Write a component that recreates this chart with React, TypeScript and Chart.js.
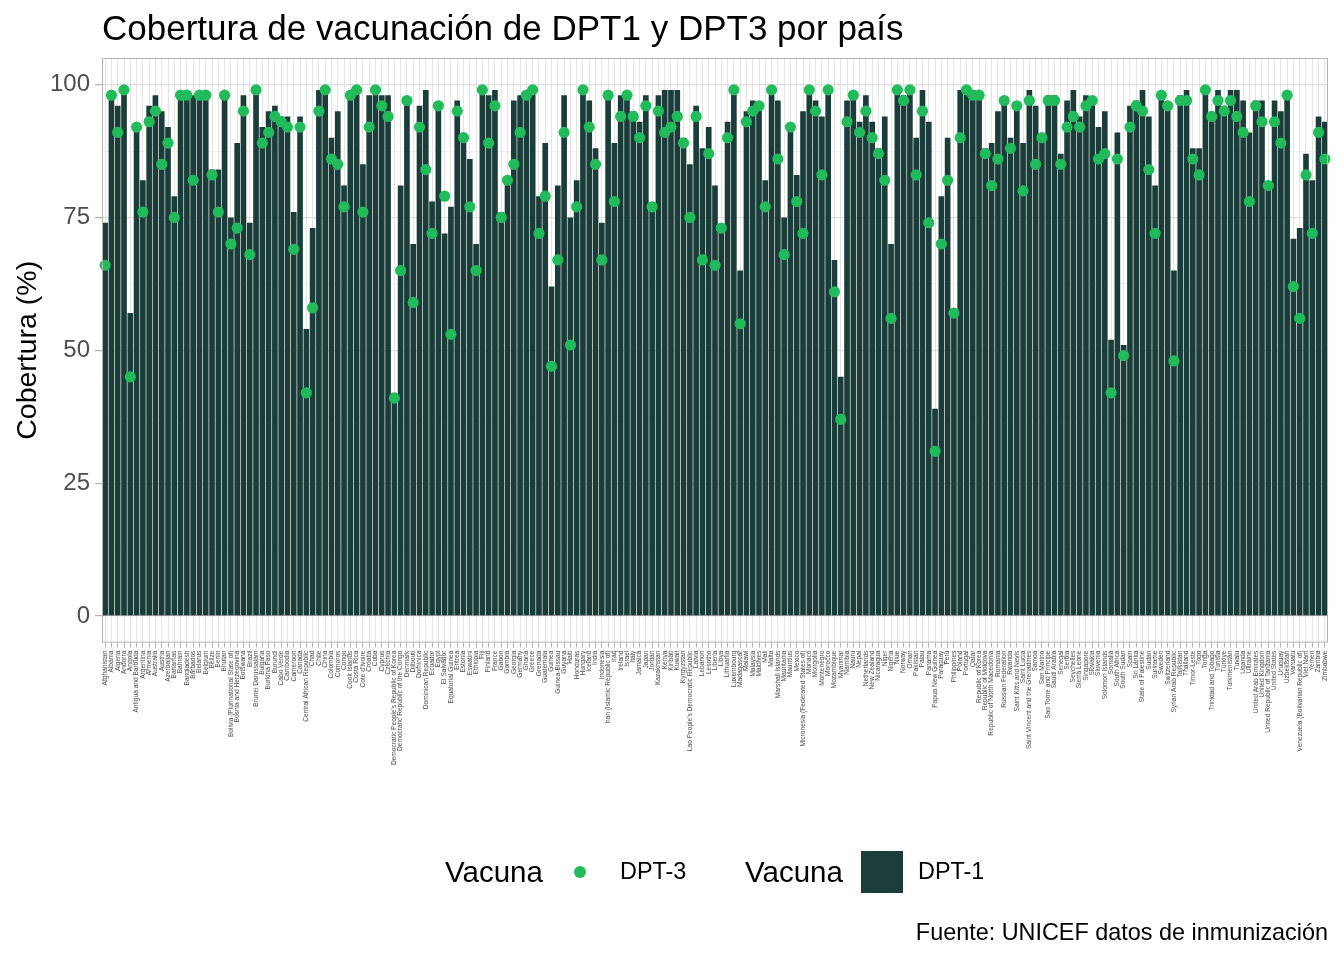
import React, { useEffect, useRef } from "react";
import { Chart, registerables } from "chart.js";

Chart.register(...registerables);

const countries: string[] = [
  "Afghanistan", "Albania", "Algeria", "Andorra", "Angola", "Antigua and Barbuda", "Argentina", "Armenia",
  "Australia", "Austria", "Azerbaijan", "Bahamas", "Bahrain", "Bangladesh", "Barbados", "Belarus", "Belgium",
  "Belize", "Benin", "Bhutan", "Bolivia (Plurinational State of)", "Bosnia and Herzegovina", "Botswana",
  "Brazil", "Brunei Darussalam", "Bulgaria", "Burkina Faso", "Burundi", "Cabo Verde", "Cambodia", "Cameroon",
  "Canada", "Central African Republic", "Chad", "Chile", "China", "Colombia", "Comoros", "Congo",
  "Cook Islands", "Costa Rica", "Cote d'Ivoire", "Croatia", "Cuba", "Cyprus", "Czechia",
  "Democratic People's Republic of Korea", "Democratic Republic of the Congo", "Denmark", "Djibouti",
  "Dominica", "Dominican Republic", "Ecuador", "Egypt", "El Salvador", "Equatorial Guinea", "Eritrea",
  "Estonia", "Eswatini", "Ethiopia", "Fiji", "Finland", "France", "Gabon", "Gambia", "Georgia", "Germany",
  "Ghana", "Greece", "Grenada", "Guatemala", "Guinea", "Guinea-Bissau", "Guyana", "Haiti", "Honduras",
  "Hungary", "Iceland", "India", "Indonesia", "Iran (Islamic Republic of)", "Iraq", "Ireland", "Israel",
  "Italy", "Jamaica", "Japan", "Jordan", "Kazakhstan", "Kenya", "Kiribati", "Kuwait", "Kyrgyzstan",
  "Lao People's Democratic Republic", "Latvia", "Lebanon", "Lesotho", "Liberia", "Libya", "Lithuania",
  "Luxembourg", "Madagascar", "Malawi", "Malaysia", "Maldives", "Mali", "Malta", "Marshall Islands",
  "Mauritania", "Mauritius", "Mexico", "Micronesia (Federated States of)", "Monaco", "Mongolia",
  "Montenegro", "Morocco", "Mozambique", "Myanmar", "Namibia", "Nauru", "Nepal", "Netherlands",
  "New Zealand", "Nicaragua", "Niger", "Nigeria", "Niue", "Norway", "Oman", "Pakistan", "Palau", "Panama",
  "Papua New Guinea", "Paraguay", "Peru", "Philippines", "Poland", "Portugal", "Qatar", "Republic of Korea",
  "Republic of Moldova", "Republic of North Macedonia", "Romania", "Russian Federation", "Rwanda",
  "Saint Kitts and Nevis", "Saint Lucia", "Saint Vincent and the Grenadines", "Samoa", "San Marino",
  "Sao Tome and Principe", "Saudi Arabia", "Senegal", "Serbia", "Seychelles", "Sierra Leone", "Singapore",
  "Slovakia", "Slovenia", "Solomon Islands", "Somalia", "South Africa", "South Sudan", "Spain", "Sri Lanka",
  "State of Palestine", "Sudan", "Suriname", "Sweden", "Switzerland", "Syrian Arab Republic", "Tajikistan",
  "Thailand", "Timor-Leste", "Togo", "Tonga", "Trinidad and Tobago", "Tunisia", "Türkiye", "Turkmenistan",
  "Tuvalu", "Uganda", "Ukraine", "United Arab Emirates", "United Kingdom", "United Republic of Tanzania",
  "United States", "Uruguay", "Uzbekistan", "Vanuatu", "Venezuela (Bolivarian Republic of)", "Viet Nam",
  "Yemen", "Zambia", "Zimbabwe",
];

const dpt1: number[] = [
  74, 98, 96, 99, 57, 92, 82, 96, 98, 95, 92, 79, 98, 98, 98, 98, 98, 84, 84, 98,
  75, 89, 98, 74, 99, 92, 95, 96, 94, 94, 76, 94, 54, 73, 99, 99, 90, 95, 81, 98,
  99, 85, 98, 99, 98, 98, 42, 81, 97, 70, 96, 99, 78, 96, 72, 77, 97, 90, 86, 70,
  99, 98, 99, 76, 82, 97, 98, 98, 99, 79, 89, 62, 81, 98, 75, 82, 99, 97, 88, 74,
  98, 89, 98, 98, 95, 93, 98, 77, 98, 99, 99, 99, 90, 85, 96, 88, 92, 81, 73, 93,
  99, 65, 95, 97, 96, 82, 99, 97, 75, 92, 83, 95, 99, 97, 94, 99, 67, 45, 97, 98,
  93, 98, 93, 88, 94, 70, 99, 98, 99, 90, 99, 93, 39, 79, 90, 57, 99, 99, 99, 98,
  88, 89, 95, 97, 90, 96, 89, 99, 96, 90, 98, 98, 87, 97, 99, 94, 98, 97, 92, 95,
  52, 91, 51, 96, 97, 99, 94, 81, 98, 96, 65, 98, 99, 88, 88, 99, 94, 99, 96, 99,
  99, 97, 91, 97, 97, 81, 97, 95, 98, 71, 73, 87, 82, 94, 93,
];

const dpt3: number[] = [
  66, 98, 91, 99, 45, 92, 76, 93, 95, 85, 89, 75, 98, 98, 82, 98, 98, 83, 76, 98,
  70, 73, 95, 68, 99, 89, 91, 94, 93, 92, 69, 92, 42, 58, 95, 99, 86, 85, 77, 98,
  99, 76, 92, 99, 96, 94, 41, 65, 97, 59, 92, 84, 72, 96, 79, 53, 95, 90, 77, 65,
  99, 89, 96, 75, 82, 85, 91, 98, 99, 72, 79, 47, 67, 91, 51, 77, 99, 92, 85, 67,
  98, 78, 94, 98, 94, 90, 96, 77, 95, 91, 92, 94, 89, 75, 94, 67, 87, 66, 73, 90,
  99, 55, 93, 95, 96, 77, 99, 86, 68, 92, 78, 72, 99, 95, 83, 99, 61, 37, 93, 98,
  91, 95, 90, 87, 82, 56, 99, 97, 99, 83, 95, 74, 31, 70, 82, 57, 90, 99, 98, 98,
  87, 81, 86, 97, 88, 96, 80, 97, 85, 90, 97, 97, 85, 92, 94, 92, 96, 97, 86, 87,
  42, 86, 49, 92, 96, 95, 84, 72, 98, 96, 48, 97, 97, 86, 83, 99, 94, 97, 95, 97,
  94, 91, 78, 96, 93, 81, 93, 89, 98, 62, 56, 83, 72, 91, 86,
];

const yTicks: number[] = [0, 25, 50, 75, 100];

const BAR = "#1B3D3A";
const DOT = "#22BB5C";
const FONT = "'Liberation Sans', Arial, Helvetica, sans-serif";

const borderPlugin = {
  id: "panelBorder",
  afterDraw(chart: any) {
    const { ctx, chartArea } = chart;
    ctx.save();
    ctx.strokeStyle = "#B3B3B3";
    ctx.lineWidth = 1;
    ctx.strokeRect(chartArea.left + 0.5, chartArea.top + 0.5, chartArea.width - 1, chartArea.height - 1);
    ctx.restore();
  },
};

function ChartCanvas() {
  const ref = useRef<HTMLCanvasElement | null>(null);
  useEffect(() => {
    if (!ref.current) return;
    const chart = new Chart(ref.current, {
      type: "bar",
      data: {
        labels: countries,
        datasets: [
          {
            type: "line",
            label: "DPT-3",
            data: dpt3,
            showLine: false,
            pointRadius: 5.6,
            pointHoverRadius: 5.6,
            pointBackgroundColor: DOT,
            pointBorderWidth: 0,
            borderColor: DOT,
            backgroundColor: DOT,
            order: 0,
            clip: false,
          } as any,
          {
            type: "bar",
            label: "DPT-1",
            data: dpt1,
            backgroundColor: BAR,
            borderWidth: 0,
            barPercentage: 0.9,
            categoryPercentage: 1.0,
            order: 1,
          },
        ],
      },
      options: {
        responsive: false,
        animation: false,
        devicePixelRatio: 1,
        layout: { padding: { left: 0, right: 16, top: 58, bottom: 0 } },
        plugins: {
          legend: { display: false },
          title: { display: false },
          tooltip: { enabled: false },
        },
        scales: {
          x: {
            type: "category",
            offset: true,
            grid: {
              offset: false,
              color: "#E3E3E3",
              lineWidth: 1,
              tickLength: 5,
              tickColor: "#B3B3B3",
            },
            border: { display: false },
            ticks: {
              autoSkip: false,
              maxRotation: 90,
              minRotation: 90,
              padding: 3,
              color: "#4D4D4D",
              font: { size: 6.6, family: FONT },
            },
            afterFit: (s: any) => {
              s.height = 960 - 642.6;
            },
          },
          y: {
            type: "linear",
            min: -5,
            max: 105,
            border: { display: false },
            ticks: {
              stepSize: 12.5,
              includeBounds: false,
              padding: 5,
              color: "#4D4D4D",
              font: { size: 24, family: FONT },
              callback: (v: any) => (yTicks.includes(Number(v)) ? String(v) : ""),
            },
            grid: {
              color: (c: any) => (yTicks.includes(c.tick?.value) ? "#DEDEDE" : "#EEEEEE"),
              lineWidth: (c: any) => (yTicks.includes(c.tick?.value) ? 1.2 : 0.8),
              tickLength: 7,
              tickColor: (c: any) => (yTicks.includes(c.tick?.value) ? "#B3B3B3" : "rgba(0,0,0,0)"),
            },
            title: {
              display: true,
              text: "Cobertura (%)",
              color: "#000000",
              font: { size: 28.5, family: FONT, weight: "normal" },
              padding: { top: 11, bottom: 0 },
            },
            afterFit: (s: any) => {
              s.width = 102;
            },
          },
        },
      },
      plugins: [borderPlugin],
    });
    return () => chart.destroy();
  }, []);
  return <canvas ref={ref} width={1344} height={960} style={{ width: 1344, height: 960, display: "block" }} />;
}

export default function App() {
  useEffect(() => {
    Chart.defaults.font.family = FONT;
  }, []);
  const txt: React.CSSProperties = {
    position: "absolute",
    fontFamily: FONT,
    lineHeight: 1,
    whiteSpace: "nowrap",
    color: "#000",
  };
  return (
    <div style={{ position: "absolute", left: 0, top: 0, width: 1344, height: 960, background: "#fff", overflow: "hidden" }}>
      <ChartCanvas />
      <div style={{ ...txt, left: 102, top: 10, fontSize: 35 }}>Cobertura de vacunación de DPT1 y DPT3 por país</div>
      <div style={{ ...txt, left: 445, top: 857, fontSize: 29.5 }}>Vacuna</div>
      <div style={{ position: "absolute", left: 574, top: 866, width: 12, height: 12, borderRadius: 6, background: DOT }} />
      <div style={{ ...txt, left: 620, top: 860, fontSize: 23.4 }}>DPT-3</div>
      <div style={{ ...txt, left: 745, top: 857, fontSize: 29.5 }}>Vacuna</div>
      <div style={{ position: "absolute", left: 861, top: 851, width: 42, height: 42, background: BAR }} />
      <div style={{ ...txt, left: 918, top: 860, fontSize: 23.4 }}>DPT-1</div>
      <div style={{ ...txt, right: 16, top: 921, fontSize: 23.4 }}>Fuente: UNICEF datos de inmunización</div>
    </div>
  );
}
